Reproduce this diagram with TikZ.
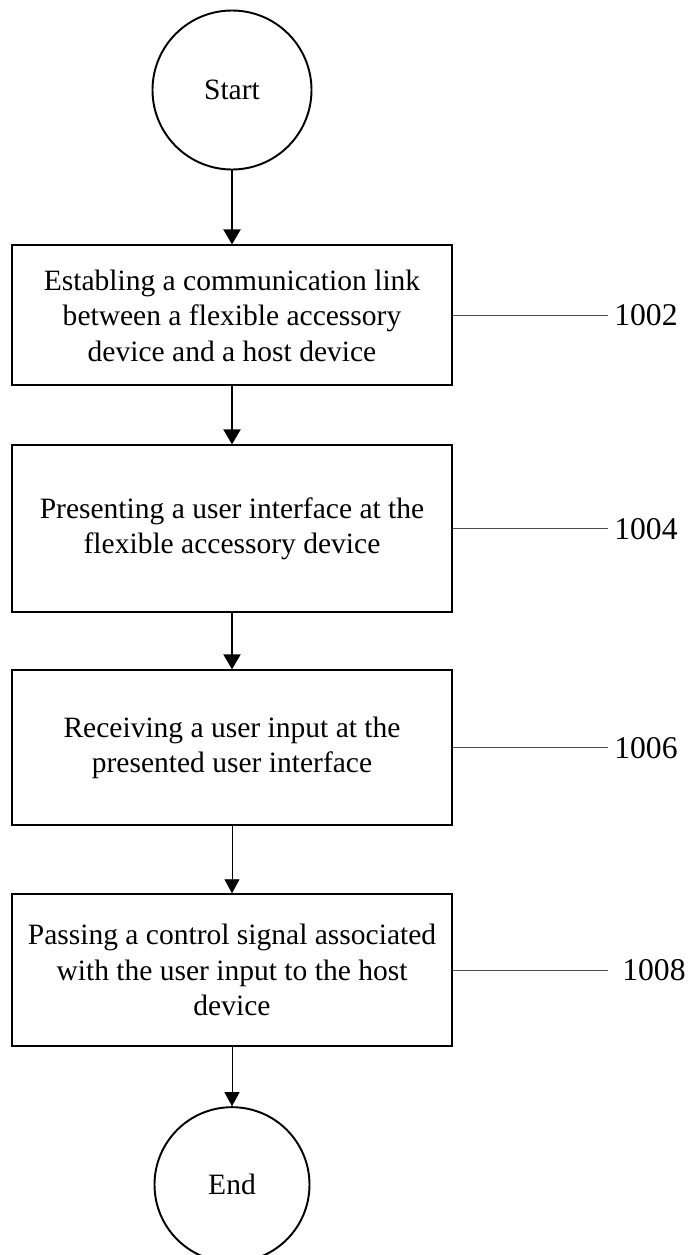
\documentclass[tikz,border=0pt]{standalone}
\usepackage{fontspec}
\setmainfont{Liberation Serif}
\usetikzlibrary{arrows.meta, positioning}

\begin{document}
\begin{tikzpicture}[font=\fontsize{16.8}{20.2}\selectfont,
  term/.style={circle, draw, line width=1.1pt, minimum size=3.18cm, inner sep=0pt},
  b/.style={rectangle, draw, line width=1.1pt, minimum width=8.8cm,
            align=center, inner sep=0pt},
  lbl/.style={inner sep=0.12cm, font=\fontsize{18}{21}\selectfont},
  a/.style={-{Triangle[length=0.3cm, width=0.34cm]}, line width=1.1pt},
  athin/.style={-{Triangle[length=0.28cm, width=0.3cm]}, line width=0.5pt},
  ld/.style={line width=0.6pt, black!70}]
  \useasboundingbox (0,0) rectangle (13.8,-25.1);
  \node[term] (start) at (4.64,-1.8) {Start};
  \node[b, minimum height=2.8cm, below=1.48cm of start] (b1)
    {Establing a communication link\\between a flexible accessory\\device and a host device};
  \node[b, minimum height=3.34cm, below=1.16cm of b1] (b2)
    {Presenting a user interface at the\\flexible accessory device};
  \node[b, minimum height=3.1cm, below=1.12cm of b2] (b3)
    {Receiving a user input at the\\presented user interface};
  \node[b, minimum height=3.04cm, below=1.34cm of b3] (b4)
    {Passing a control signal associated\\with the user input to the host\\device};
  \node[term, minimum size=3.1cm, below=1.18cm of b4] (end) {End};
  % reference numerals
  \node[lbl, right=3.1cm of b1] (n1) {1002};
  \node[lbl, right=3.1cm of b2] (n2) {1004};
  \node[lbl, right=3.1cm of b3] (n3) {1006};
  \node[lbl, right=3.26cm of b4] (n4) {1008};
  \draw[a] (start) -- (b1);
  \draw[a] (b1) -- (b2);
  \draw[a] (b2) -- (b3);
  \draw[athin] (b3) -- (b4);
  \draw[athin] (b4) -- (end);
  \draw[ld] (b1.east) -- (n1.west);
  \draw[ld] (b2.east) -- (n2.west);
  \draw[ld] (b3.east) -- (n3.west);
  \draw[ld, shorten >=0.16cm] (b4.east) -- (n4.west);
\end{tikzpicture}
\end{document}
